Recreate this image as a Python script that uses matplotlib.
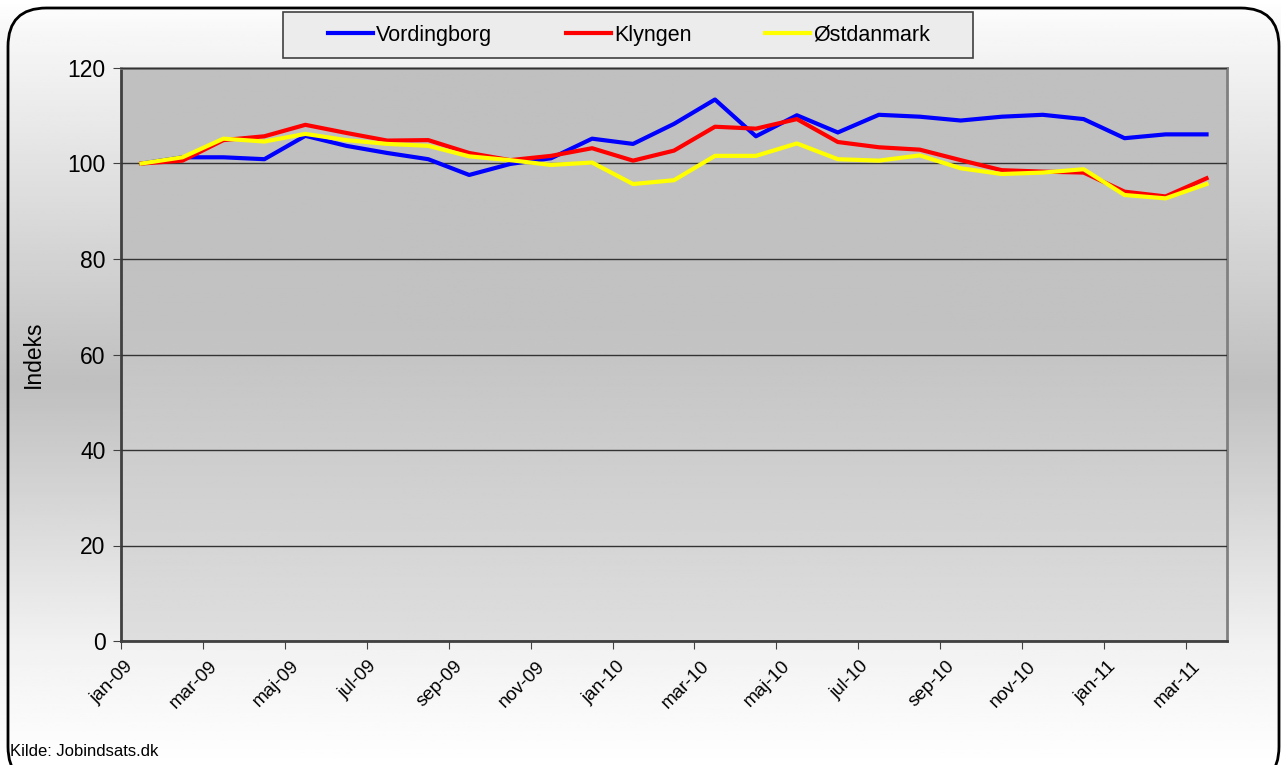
import matplotlib.pyplot as plt, numpy as np
from matplotlib.patches import FancyBboxPatch, Rectangle
from matplotlib.transforms import ScaledTranslation

months = ['jan-09', 'feb-09', 'mar-09', 'apr-09', 'maj-09', 'jun-09', 'jul-09', 'aug-09', 'sep-09',
          'okt-09', 'nov-09', 'dec-09', 'jan-10', 'feb-10', 'mar-10', 'apr-10', 'maj-10', 'jun-10',
          'jul-10', 'aug-10', 'sep-10', 'okt-10', 'nov-10', 'dec-10', 'jan-11', 'feb-11', 'mar-11']

vordingborg = [100.0, 101.3, 101.3, 100.9, 105.8, 103.7, 102.2, 100.9, 97.6, 99.9, 101.1, 105.2, 104.1,
               108.3, 113.4, 105.7, 110.1, 106.5, 110.2, 109.8, 109.0, 109.8, 110.2, 109.3, 105.3, 106.1, 106.1]
klyngen = [100.0, 100.6, 104.9, 105.7, 108.1, 106.4, 104.8, 104.9, 102.2, 100.7, 101.6, 103.2, 100.6,
           102.7, 107.7, 107.3, 109.3, 104.5, 103.4, 102.9, 100.7, 98.6, 98.3, 98.1, 94.1, 93.1, 96.9]
ostdanmark = [100.0, 101.3, 105.2, 104.6, 106.2, 104.9, 104.1, 103.7, 101.5, 100.7, 99.7, 100.2, 95.7,
              96.5, 101.6, 101.6, 104.2, 100.9, 100.6, 101.7, 99.0, 97.8, 98.1, 98.8, 93.4, 92.7, 95.7]

plt.rcParams['font.family'] = ['Liberation Sans', 'DejaVu Sans']

W, H = 1281, 765
fig = plt.figure(figsize=(W / 100, H / 100), dpi=100)

# figure background: white -> grey -> white
bg = fig.add_axes([0, 0, 1, 1], zorder=-10)
yy = np.linspace(0, 1, 256)
shade = np.interp(yy, [0, 0.04, 0.5, 0.85, 1.0], [1.0, 0.97, 0.75, 0.95, 1.0])
bg.imshow(np.tile(shade[:, None], (1, 2)), cmap='gray', vmin=0, vmax=1, aspect='auto',
          extent=[0, 1, 0, 1], origin='upper')
bg.set_xlim(0, 1)
bg.set_ylim(0, 1)
bg.axis('off')
border = FancyBboxPatch((8 / W, -20 / H), (W - 2) / W - 8 / W, (H - 8) / H + 20 / H,
                        boxstyle='round,pad=0,rounding_size=0.03', transform=bg.transAxes,
                        facecolor='none', edgecolor='black', linewidth=2, mutation_aspect=W / H)
bg.add_patch(border)

# legend frame
bg.add_patch(Rectangle((283 / W, 1 - 58 / H), 690 / W, 46 / H, transform=bg.transAxes,
                       facecolor='#ececec', edgecolor='#404040', linewidth=1.2))

ax = fig.add_axes([121 / W, 1 - 641 / H, (1227 - 121) / W, (641 - 68) / H])
ax.set_facecolor('none')
# plot-area gradient
pa = np.interp(yy, [0, 0.45, 1.0], [0.75, 0.76, 0.87])
ax.imshow(np.tile(pa[:, None], (1, 2)), cmap='gray', vmin=0, vmax=1, aspect='auto',
          extent=[-0.5, 26.5, 0, 120], origin='upper', zorder=0)

x = np.arange(len(months))
ax.plot(x, vordingborg, color='#0000ff', lw=3, label='Vordingborg', zorder=3)
ax.plot(x, klyngen, color='#ff0000', lw=3, label='Klyngen', zorder=3)
ax.plot(x, ostdanmark, color='#ffff00', lw=3, label='Østdanmark', zorder=3)

ax.set_xlim(-0.5, 26.5)
ax.set_ylim(0, 120)
ax.set_yticks(range(0, 121, 20))
ax.grid(axis='y', color='#333333', lw=1, zorder=1)
ax.set_axisbelow(False)
ax.tick_params(axis='y', labelsize=16.5, length=6, color='#404040', pad=5)

tick_pos = x[::2] - 0.5
ax.set_xticks(tick_pos)
ax.set_xticklabels(months[::2], rotation=45, ha='center', va='top',
                   fontsize=13.5, family=['Liberation Sans Narrow', 'Liberation Sans'])
ax.tick_params(axis='x', length=6, color='#404040', pad=6)
shift = ScaledTranslation(-9 / 100, 0, fig.dpi_scale_trans)
for lbl in ax.get_xticklabels():
    lbl.set_transform(lbl.get_transform() + shift)

for s in ['left', 'bottom']:
    ax.spines[s].set_color('#404040')
    ax.spines[s].set_linewidth(2)
for s in ['top', 'right']:
    ax.spines[s].set_color('#808080')
    ax.spines[s].set_linewidth(2)

ax.set_ylabel('Indeks', fontsize=16.5, labelpad=16)

leg = fig.legend(loc='center', ncol=3, bbox_to_anchor=(629 / W, 1 - 35 / H),
                 fontsize=15.5, handlelength=2.1, handletextpad=0.15, columnspacing=3.4,
                 frameon=False, borderaxespad=0)

fig.text(10 / W, 1 - 752 / H, 'Kilde: Jobindsats.dk', fontsize=12, va='center',
         family=['Liberation Sans Narrow', 'Liberation Sans'])

fig.savefig('out.png', dpi=100)
